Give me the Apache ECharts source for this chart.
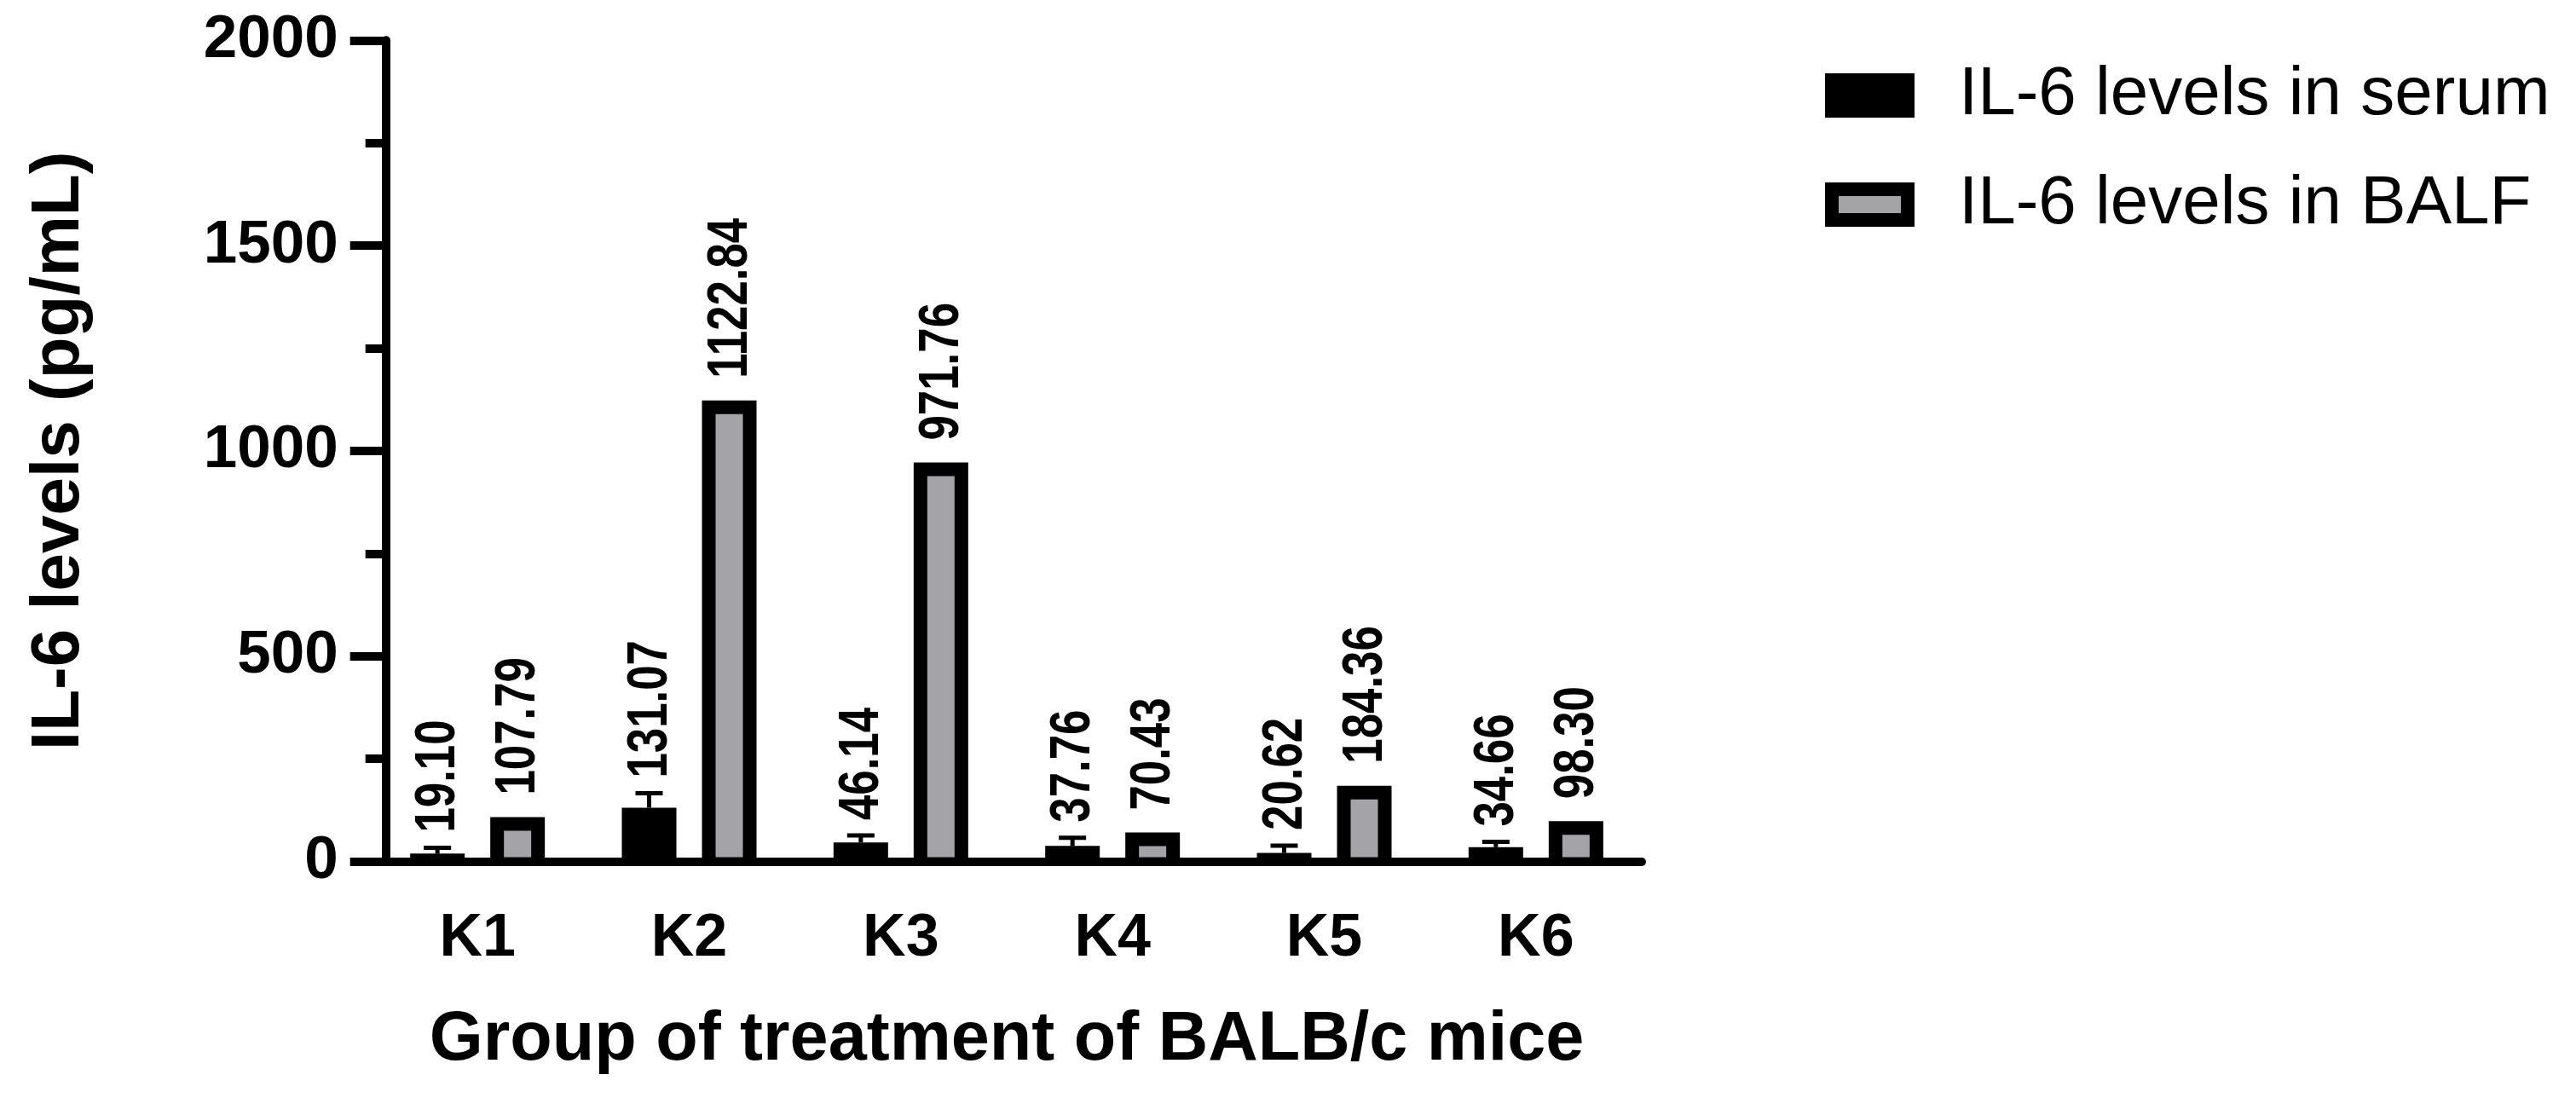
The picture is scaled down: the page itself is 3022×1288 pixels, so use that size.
<!DOCTYPE html>
<html>
<head>
<meta charset="utf-8">
<script src="https://cdn.jsdelivr.net/npm/echarts@6/dist/echarts.min.js"></script>
<style>
  html, body { margin: 0; padding: 0; background: #fff; }
  #chart { width: 3022px; height: 1288px; }
</style>
</head>
<body>
<div id="chart"></div>
<script>
// data
const groups = ['K1', 'K2', 'K3', 'K4', 'K5', 'K6'];
const serumMean = [19.10, 131.07, 46.14, 37.76, 20.62, 34.66];
const serumSD = [14, 35, 17, 20, 18, 13];
const balfMean = [107.79, 1122.84, 971.76, 70.43, 184.36, 98.30];
const yTicks = [0, 500, 1000, 1500, 2000];
const seriesNames = ['IL-6 levels in serum', 'IL-6 levels in BALF'];

const FONT = "'Liberation Sans', Arial, sans-serif";
const LABEL_FONT = "bold 66px 'Liberation Sans', Arial, sans-serif";
const LABEL_SQUEEZE = 0.8; // value labels in the figure are condensed
const GRAY = '#a4a3a8';
const BAR_W = 64;
const BORDER = 16;
const PAIR_OFFSET = 47; // half distance between the two bars of a group
const CAP_W = 32;
const ERR_LW = 5;
const AXIS_HALF = 5;

function valueLabel(cx, y, v) {
  return {
    type: 'text', x: cx + 2, y: y, rotation: Math.PI / 2, scaleX: LABEL_SQUEEZE,
    style: { text: v.toFixed(2), font: LABEL_FONT, fill: '#000', align: 'left', verticalAlign: 'middle' },
  };
}

function renderSerum(params, api) {
  const i = api.value(0);
  const v = api.value(1);
  const sd = api.value(2);
  const base = api.coord([i, 0]);
  const top = api.coord([i, v]);
  const errTop = api.coord([i, v + sd]);
  const cx = base[0] - PAIR_OFFSET;
  return {
    type: 'group',
    children: [
      { type: 'rect', shape: { x: cx - BAR_W / 2, y: top[1], width: BAR_W, height: base[1] - top[1] }, style: { fill: '#000' } },
      { type: 'rect', shape: { x: cx - ERR_LW / 2, y: errTop[1], width: ERR_LW, height: top[1] - errTop[1] }, style: { fill: '#000' } },
      { type: 'rect', shape: { x: cx - CAP_W / 2, y: errTop[1] - ERR_LW / 2, width: CAP_W, height: ERR_LW }, style: { fill: '#000' } },
      valueLabel(cx, errTop[1] - 18, v),
    ],
  };
}

function renderBalf(params, api) {
  const i = api.value(0);
  const v = api.value(1);
  const base = api.coord([i, 0]);
  const top = api.coord([i, v]);
  const cx = base[0] + PAIR_OFFSET;
  const innerH = base[1] - AXIS_HALF - top[1] - BORDER;
  return {
    type: 'group',
    children: [
      { type: 'rect', shape: { x: cx - BAR_W / 2, y: top[1], width: BAR_W, height: base[1] - top[1] }, style: { fill: '#000' } },
      { type: 'rect', shape: { x: cx - BAR_W / 2 + BORDER, y: top[1] + BORDER, width: BAR_W - 2 * BORDER, height: Math.max(innerH, 0) }, style: { fill: GRAY } },
      valueLabel(cx, top[1] - 26, v),
    ],
  };
}

const chart = echarts.init(document.getElementById('chart'), null, { renderer: 'canvas' });

chart.setOption({
  backgroundColor: '#fff',
  animation: false,
  grid: { left: 436, top: 47.3, width: 1490, height: 963.2 },
  legend: {
    orient: 'vertical',
    left: 2141,
    top: 72,
    padding: 0,
    itemWidth: 89,
    itemHeight: 36,
    itemGap: 48,
    icon: 'rect',
    textStyle: { fontFamily: FONT, fontSize: 80, color: '#000', padding: [0, 0, 0, 55] },
    data: [
      { name: seriesNames[0], itemStyle: { color: '#000', borderColor: '#000', borderWidth: 16 } },
      { name: seriesNames[1], itemStyle: { color: GRAY, borderColor: '#000', borderWidth: 16 } },
    ],
  },
  xAxis: {
    type: 'category',
    data: groups,
    boundaryGap: true,
    name: 'Group of treatment of BALB/c mice',
    nameLocation: 'middle',
    nameGap: 170,
    nameTextStyle: { fontFamily: FONT, fontSize: 81, fontWeight: 'bold', color: '#000' },
    axisLine: { lineStyle: { color: '#000', width: 10 } },
    axisTick: { alignWithLabel: true, length: 42, lineStyle: { color: '#000', width: 10 } },
    axisLabel: { fontFamily: FONT, fontSize: 70, fontWeight: 'bold', color: '#000', margin: 56 },
  },
  yAxis: {
    type: 'value',
    min: yTicks[0],
    max: yTicks[yTicks.length - 1],
    interval: yTicks[1] - yTicks[0],
    offset: -16.7,
    name: 'IL-6 levels (pg/mL)',
    nameLocation: 'middle',
    nameGap: 343,
    nameTextStyle: { fontFamily: FONT, fontSize: 80, fontWeight: 'bold', color: '#000' },
    axisLine: { show: true, lineStyle: { color: '#000', width: 10 } },
    axisTick: { show: true, length: 42, lineStyle: { color: '#000', width: 10 } },
    minorTick: { show: true, splitNumber: 2, length: 24, lineStyle: { color: '#000', width: 10 } },
    splitLine: { show: false },
    axisLabel: {
      fontFamily: FONT, fontSize: 71, fontWeight: 'bold', color: '#000', margin: 56,
      formatter: (v) => String(v),
    },
  },
  series: [
    {
      name: seriesNames[0],
      type: 'custom',
      renderItem: renderSerum,
      itemStyle: { color: '#000' },
      encode: { x: 0, y: 1 },
      data: groups.map((g, i) => [i, serumMean[i], serumSD[i]]),
      z: 3,
    },
    {
      name: seriesNames[1],
      type: 'custom',
      renderItem: renderBalf,
      itemStyle: { color: GRAY, borderColor: '#000', borderWidth: 16 },
      encode: { x: 0, y: 1 },
      data: groups.map((g, i) => [i, balfMean[i]]),
      z: 3,
    },
  ],
});
</script>
</body>
</html>
